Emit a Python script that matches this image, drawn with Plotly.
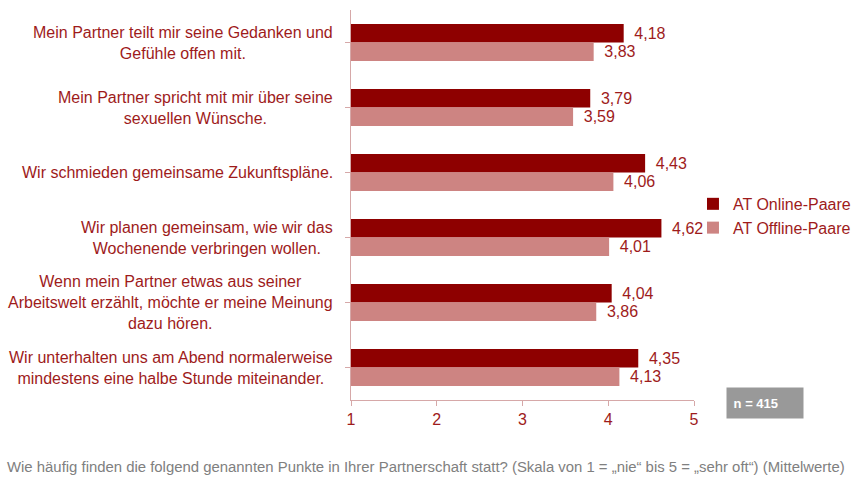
import plotly.graph_objects as go

categories = [
    "Mein Partner teilt mir seine Gedanken und<br>Gefühle offen mit.",
    "Mein Partner spricht mit mir über seine<br>sexuellen Wünsche.",
    "Wir schmieden gemeinsame Zukunftspläne.",
    "Wir planen gemeinsam, wie wir das<br>Wochenende verbringen wollen.",
    "Wenn mein Partner etwas aus seiner<br>Arbeitswelt erzählt, möchte er meine Meinung<br>dazu hören.",
    "Wir unterhalten uns am Abend normalerweise<br>mindestens eine halbe Stunde miteinander.",
]
online = [4.18, 3.79, 4.43, 4.62, 4.04, 4.35]
offline = [3.83, 3.59, 4.06, 4.01, 3.86, 4.13]
series_names = ["AT Online-Paare", "AT Offline-Paare"]
x_ticks = [1, 2, 3, 4, 5]
footnote = ("Wie häufig finden die folgend genannten Punkte in Ihrer Partnerschaft statt? "
            "(Skala von 1 = „nie“ bis 5 = „sehr oft“) (Mittelwerte)")
n_label = "n = 415"

TEXT = "#9E1B1B"
C_ON = "#8E0000"
C_OFF = "#CD8482"
AXIS = "#D6A8A8"
FONT = "Liberation Sans, Arial, sans-serif"

ids = list(range(len(categories)))

def fmt(v):
    return " \u2009" + f"{v:.2f}".replace(".", ",")

fig = go.Figure()
for name, vals, col in [(series_names[0], online, C_ON), (series_names[1], offline, C_OFF)]:
    fig.add_trace(go.Bar(
        y=ids, x=[v - 1 for v in vals], base=1, orientation="h", name=name,
        marker=dict(color=col, line=dict(width=0)),
        text=[fmt(v) for v in vals], textposition="outside",
        textfont=dict(color=TEXT, size=16, family=FONT), cliponaxis=False,
    ))

for i, c in enumerate(categories):
    fig.add_annotation(x=0, xref="paper", y=i, yref="y", xanchor="right", xshift=-16,
                       text=c, showarrow=False, align="center",
                       font=dict(color=TEXT, size=16, family=FONT))

fig.add_annotation(x=1.0933, xref="paper", y=-0.0077, yref="paper", xanchor="left", yanchor="middle",
                   text="<b>&nbsp;" + n_label + "</b>", showarrow=False, align="left",
                   width=70, height=24, borderpad=3, bgcolor="#999999",
                   font=dict(color="white", size=13, family=FONT))

fig.add_annotation(x=0.218, xref="paper", y=-0.172, yref="paper", xanchor="center", yanchor="middle",
                   text=footnote, showarrow=False,
                   font=dict(color="#808080", size=14.9, family="Liberation Sans Narrow, Arial Narrow, " + FONT))

fig.update_layout(
    width=851, height=479,
    margin=dict(l=351, r=157, t=10, b=79, autoexpand=False),
    plot_bgcolor="white", paper_bgcolor="white",
    barmode="group", bargap=0.43, bargroupgap=0,
    showlegend=True,
    legend=dict(x=0.997, y=0.472, xanchor="left", yanchor="middle",
                font=dict(color=TEXT, size=16, family=FONT), itemwidth=30,
                bgcolor="rgba(0,0,0,0)"),
    xaxis=dict(range=[1, 5], tickvals=x_ticks, ticktext=[str(t) for t in x_ticks],
               showgrid=False, zeroline=False, showline=True, linecolor=AXIS, linewidth=1,
               ticks="outside", ticklen=5, tickcolor=AXIS,
               tickfont=dict(color=TEXT, size=16, family=FONT)),
    yaxis=dict(tickmode="array", tickvals=ids, ticktext=[""] * len(ids),
               range=[len(ids) - 0.5, -0.5], showgrid=False, zeroline=False,
               showline=True, linecolor=AXIS, linewidth=1,
               ticks="outside", ticklen=5, tickcolor=AXIS, tickson="boundaries"),
)

fig.write_html("out.html", config={"displayModeBar": False},
               post_script="document.body.style.margin='0';")
